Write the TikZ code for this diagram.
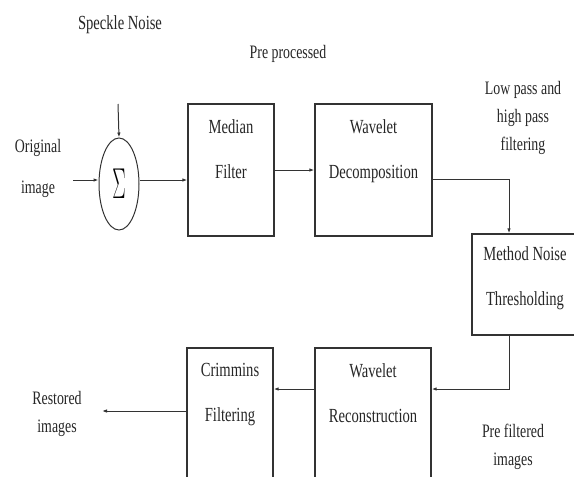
\documentclass[tikz,border=0pt]{standalone}
\usepackage{fontspec}
\setmainfont{Liberation Serif}[FakeStretch=0.73]
\usetikzlibrary{positioning,shapes.geometric,arrows.meta}

\begin{document}
\begin{tikzpicture}[x=1pt,y=-1pt,>={Latex[length=5pt,width=3.5pt]},
  blok/.style={draw=black!80,line width=1.3pt,inner sep=0pt},
  txt/.style={font=\fontsize{20}{45}\selectfont,align=center,inner sep=0pt,text=black!85},
  lbl/.style={font=\fontsize{19}{28}\selectfont,align=center,inner sep=0pt,text=black!85},
  pijl/.style={draw=black!80,line width=1pt,->}]
\useasboundingbox (0,0) rectangle (574,477);

% blocks
\node[draw=black!80,line width=1pt,ellipse,inner sep=0pt,minimum width=40pt,minimum height=92pt] (sig) at (119,184)
  {\scalebox{1.15}[2.5]{\fontsize{16}{16}\selectfont$\Sigma$}};
\node[blok,minimum width=86pt,minimum height=132pt] (med) at (231,170) {};
\node[blok,minimum width=117pt,minimum height=132pt] (wd) at (373.5,170) {};
\node[blok,minimum width=106pt,minimum height=101pt] (mn) at (525,284.5) {};
\node[blok,minimum width=116pt,minimum height=142pt] (rec) at (373,419) {};
\node[blok,minimum width=86pt,minimum height=142pt] (cri) at (230,419) {};

\node[txt,below=16pt of med.north] {Median\\Filter};
\node[txt,below=16pt of wd.north] {Wavelet\\Decomposition};
\node[txt,below=13pt of mn.north] {Method Noise\\Thresholding};
\node[txt,below=16pt of rec.north] {Wavelet\\Reconstruction};
\node[txt,below=16pt of cri.north] {Crimmins\\Filtering};

% labels
\node[lbl,font=\fontsize{20}{28}\selectfont] (speckle) at (120,25) {Speckle Noise};
\node[lbl] (pre) at (288,54) {Pre processed};
\node[lbl,font=\fontsize{19}{41}\selectfont] (orig) at (38,168) {Original\\image};
\node[lbl] (lowhigh) at (523,118) {Low pass and\\high pass\\filtering};
\node[lbl] (restored) at (57,414) {Restored\\images};
\node[lbl] (prefilt) at (513,447) {Pre filtered\\images};

% connectors
\coordinate (inA) at (73,180);
\coordinate (noise) at (118,104);
\coordinate (out) at (102,411);
\path[pijl] (inA) -- (sig.west |- inA);
\path[pijl] (noise) -- (sig.north);
\path[pijl] (sig.east |- inA) -- (med.west |- inA);
\path[pijl] (med) -- (wd);
\path[pijl] ([yshift=-9pt]wd.east) -| ([xshift=-16pt]mn.north);
\path[pijl] ([xshift=-16pt]mn.south) |- ([yshift=30pt]rec.east);
\path[pijl] ([yshift=30pt]rec.west) -- ([yshift=30pt]cri.east);
\path[pijl] ([yshift=8pt]cri.west) -- (out);
\end{tikzpicture}
\end{document}
